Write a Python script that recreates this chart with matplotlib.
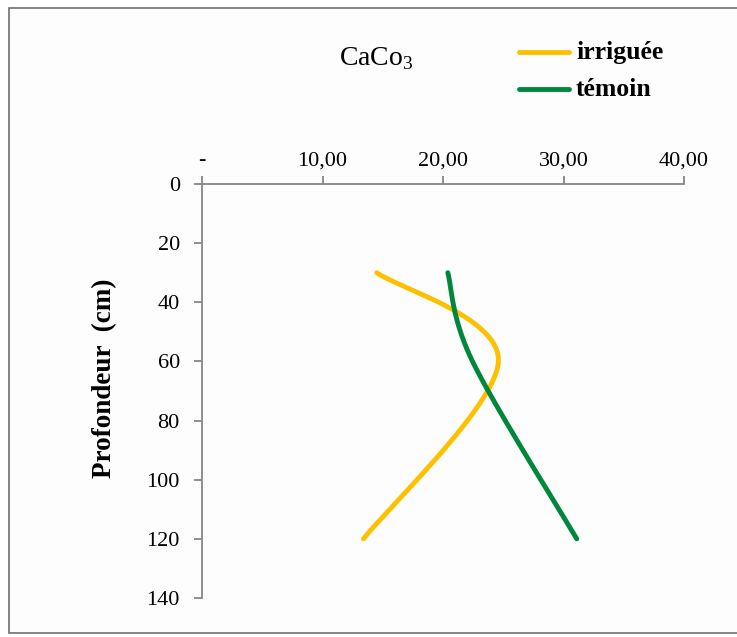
import numpy as np
import matplotlib
matplotlib.use("Agg")
import matplotlib.pyplot as plt
from matplotlib.lines import Line2D
from matplotlib.patches import Rectangle

plt.rcParams['font.family'] = ['Liberation Serif', 'DejaVu Serif']
plt.rcParams['mathtext.fontset'] = 'custom'
plt.rcParams['mathtext.rm'] = 'Liberation Serif'

# Depth profile (cm) and CaCO3 content for both plots
depth = [30, 60, 120]
irriguee = [14.5, 24.6, 13.4]
temoin = [20.4, 22.45, 31.1]

x_ticks = [0, 10, 20, 30, 40]
x_tick_labels = ['-', '10,00', '20,00', '30,00', '40,00']
y_ticks = [0, 20, 40, 60, 80, 100, 120, 140]

COL_IRR = '#FFC000'
COL_TEM = '#00873C'
AXIS_COL = '#868686'


def smooth(xs, ys, n=80):
    """Catmull-Rom style cubic Bezier through the points (spreadsheet 'smoothed line')."""
    pts = np.column_stack([xs, ys]).astype(float)
    P = np.vstack([pts[0], pts, pts[-1]])
    segs = []
    t = np.linspace(0, 1, n)[:, None]
    for i in range(1, len(P) - 2):
        p0, p1, p2, p3 = P[i - 1], P[i], P[i + 1], P[i + 2]
        c1 = p1 + (p2 - p0) / 6.0
        c2 = p2 - (p3 - p1) / 6.0
        seg = ((1 - t) ** 3) * p1 + 3 * ((1 - t) ** 2) * t * c1 + 3 * (1 - t) * t ** 2 * c2 + t ** 3 * p2
        segs.append(seg if i == 1 else seg[1:])
    c = np.vstack(segs)
    return c[:, 0], c[:, 1]


W, H = 737, 637
fig = plt.figure(figsize=(W / 100, H / 100), dpi=100)
fig.patch.set_facecolor('white')

# chart frame
fig.add_artist(Rectangle((9 / W, 1 - 633 / H), (W + 10) / W, (633 - 8) / H,
                         transform=fig.transFigure, facecolor='#fdfdfd',
                         edgecolor='#6f6f6f', linewidth=1.2, zorder=0))

ax = fig.add_axes([202 / W, 1 - 598 / H, 482 / W, 414 / H])
ax.set_facecolor('none')

for vals, col in ((irriguee, COL_IRR), (temoin, COL_TEM)):
    sx, sy = smooth(vals, depth)
    ax.plot(sx, sy, color=col, lw=3.5, solid_capstyle='round', solid_joinstyle='round')

ax.set_xlim(0, 40)
ax.set_ylim(140, 0)
ax.xaxis.set_ticks_position('top')
ax.xaxis.set_label_position('top')
ax.set_xticks(x_ticks)
ax.set_xticklabels(x_tick_labels)
ax.set_yticks(y_ticks)

for s in ('right', 'bottom'):
    ax.spines[s].set_visible(False)
for s in ('top', 'left'):
    ax.spines[s].set_color(AXIS_COL)
    ax.spines[s].set_linewidth(1.3)

ax.tick_params(axis='both', direction='out', length=6, width=1.3, color=AXIS_COL,
               labelsize=16, labelcolor='black')
ax.tick_params(axis='x', pad=4)
ax.tick_params(axis='y', pad=10)

ax.set_ylabel('Profondeur  (cm)', fontsize=19.5, fontweight='bold')
ax.yaxis.set_label_coords((105 - 202) / 482, 0.5 - (378 - 391) / 414)
ax.yaxis.label.set_va('center')

fig.text(376 / W, 1 - 59 / H, 'CaCo$_3$', fontsize=20, ha='center', va='center')

# legend
for yy, col, lab in ((52, COL_IRR, 'irriguée'), (89, COL_TEM, 'témoin')):
    fig.add_artist(Line2D([519 / W, 569 / W], [1 - yy / H] * 2, color=col, lw=3.5,
                          solid_capstyle='round', transform=fig.transFigure))
    fig.text(576 / W, 1 - yy / H, lab, fontsize=18.5, fontweight='bold',
             ha='left', va='center')

fig.savefig('out.png', dpi=100, facecolor=fig.get_facecolor())
